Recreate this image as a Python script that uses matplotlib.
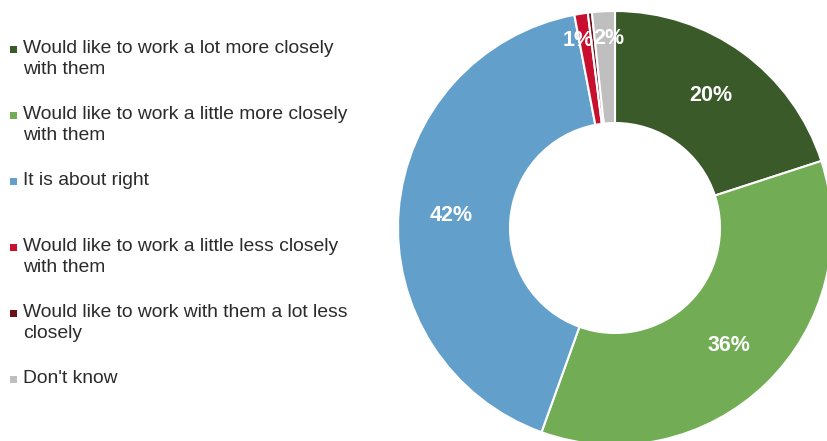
import matplotlib
matplotlib.use("Agg")
import matplotlib.pyplot as plt
from matplotlib.patches import Rectangle
import numpy as np

plt.rcParams['font.family'] = ['Liberation Sans', 'DejaVu Sans']

categories = [
    "Would like to work a lot more closely\nwith them",
    "Would like to work a little more closely\nwith them",
    "It is about right",
    "Would like to work a little less closely\nwith them",
    "Would like to work with them a lot less\nclosely",
    "Don't know",
]
shares = [20.0, 35.5, 41.5, 1.0, 0.3, 1.7]
show_label = [True, True, True, True, False, True]
colors = ["#3a5a2a", "#72ad56", "#62a0cb", "#c8102e", "#6e0f1c", "#bfbfbf"]

W, H = 827, 441
fig = plt.figure(figsize=(W / 100, H / 100), dpi=100)

# donut geometry in pixels
cx, cy, R = 615, 228, 217
ax = fig.add_axes([(cx - R) / W, (H - cy - R) / H, 2 * R / W, 2 * R / H])

wedges, _ = ax.pie(shares, colors=colors, startangle=90, counterclock=False,
                   radius=1.0,
                   wedgeprops=dict(width=1 - 105 / R, edgecolor="white", linewidth=1.5))
ax.set_aspect("auto")
ax.set_xlim(-1, 1)
ax.set_ylim(-1, 1)
ax.axis("off")
for w in wedges:
    w.set_clip_on(False)

# small slices sit side by side at the top: spread their labels a little (pixels)
small_nudge = {3: -7, 5: 4}

total = sum(shares)
start = 90.0
for i, (v, show) in enumerate(zip(shares, show_label)):
    span = v / total * 360
    mid = np.deg2rad(start - span / 2)
    start -= span
    if not show:
        continue
    r = 0.755 if v > 5 else 0.875
    x = r * np.cos(mid) + small_nudge.get(i, 0) / R
    ax.text(x, r * np.sin(mid), f"{v:.0f}%", ha="center", va="center",
            color="white", fontsize=15.5, fontweight="bold")

# legend on the left
y0, step = 48, 66
for i, (label, c) in enumerate(zip(categories, colors)):
    ytop = y0 + i * step
    fig.patches.append(Rectangle((10 / W, 1 - (ytop + 5) / H), 7 / W, 7 / H,
                                 transform=fig.transFigure, facecolor=c, edgecolor="none"))
    fig.text(23 / W, 1 - (ytop - 8) / H, label, ha="left", va="top",
             fontsize=13.9, color="#2b2b2b", linespacing=1.32)

fig.savefig("out.png", dpi=100)
